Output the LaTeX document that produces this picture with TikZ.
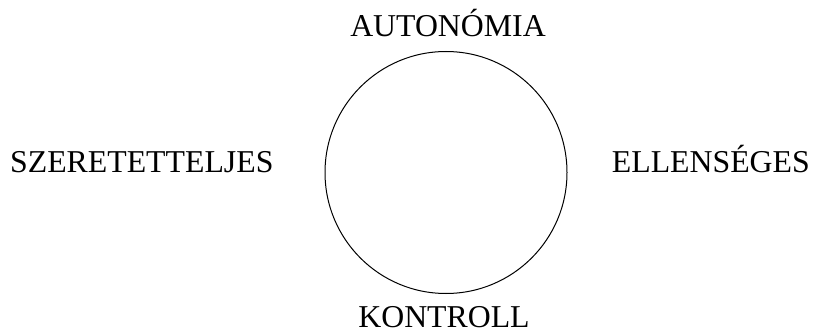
\documentclass[tikz,border=0pt]{standalone}
\usepackage{fontspec}
\setmainfont{Liberation Serif}
\begin{document}
\begin{tikzpicture}[x=1pt,y=-1pt,
  lbl/.style={anchor=base,inner sep=0pt,font=\fontsize{31.8}{38}\selectfont}]
\useasboundingbox (0,0) rectangle (817,334);
\node[draw,circle,minimum size=242pt,inner sep=0pt,line width=1pt] (c) at (446,172.5) {};
\node[lbl] (top) at (448,37) {AUTONÓMIA};
\node[lbl] (bot) at (444,327) {KONTROLL};
\node[lbl,anchor=base west] (left) at (10,172) {SZERETETTELJES};
\node[lbl,anchor=base east] (right) at (810,172) {ELLENSÉGES};
\end{tikzpicture}
\end{document}
